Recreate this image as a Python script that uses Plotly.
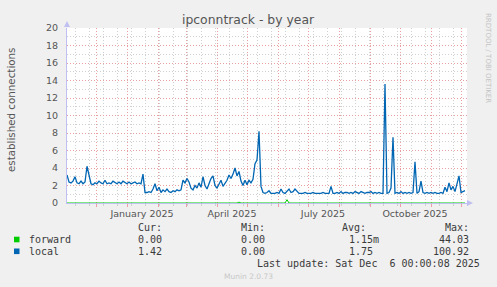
import plotly.graph_objects as go
import pandas as pd

# ---------------- data (daily averages, one value every 2 days) ----------------
start_date = "2024-11-02"
step = "2D"

local = [
    3.2, 2.4, 2.3, 2.5, 3.0, 2.3, 2.2, 2.5, 2.2, 2.4,
    4.2, 3.2, 2.2, 2.1, 2.3, 2.2, 2.5, 2.3, 2.2, 2.6,
    2.2, 2.3, 2.2, 2.5, 2.3, 2.2, 2.4, 2.2, 2.5, 2.3,
    2.2, 2.4, 2.2, 2.3, 2.4, 2.2, 2.3, 2.2, 3.3, 1.2,
    1.2, 1.3, 1.2, 1.6, 2.2, 1.4, 1.8, 1.2, 1.5, 1.3,
    1.6, 1.3, 1.2, 1.4, 1.3, 1.5, 1.4, 1.5, 2.6, 2.3,
    2.8, 2.4, 1.7, 1.5, 2.0, 1.7, 2.3, 1.8, 3.0, 2.0,
    1.6, 2.2, 2.8, 3.1, 2.0, 1.7, 2.2, 2.6, 1.9, 2.3,
    2.6, 3.2, 2.8, 3.3, 4.0, 3.1, 3.6, 2.5, 2.0, 2.6,
    2.1, 2.6, 2.3, 2.7, 4.5, 4.9, 8.2, 1.9, 1.2, 1.1,
    1.2, 1.4, 1.1, 1.1, 1.1, 1.2, 1.1, 1.6, 1.2, 1.1,
    1.3, 1.6, 1.2, 1.3, 1.6, 1.4, 1.1, 1.1, 1.1, 1.2,
    1.1, 1.1, 1.1, 1.2, 1.1, 1.1, 1.1, 1.1, 1.2, 1.1,
    1.1, 1.1, 1.9, 1.1, 1.1, 1.2, 1.1, 1.3, 1.1, 1.2,
    1.2, 1.1, 1.2, 1.1, 1.3, 1.2, 1.1, 1.3, 1.2, 1.1,
    1.2, 1.2, 1.3, 1.1, 1.2, 1.1, 1.2, 1.1, 1.1, 13.6,
    1.1, 1.2, 1.7, 7.5, 1.1, 1.2, 1.1, 1.3, 1.1, 1.2,
    1.1, 1.2, 1.1, 1.2, 4.7, 1.1, 1.3, 2.5, 1.2, 1.1,
    1.2, 1.1, 1.2, 1.1, 1.2, 1.1, 1.1, 1.2, 1.1, 1.8,
    1.3, 2.3, 1.5, 1.9, 1.3, 2.2, 3.1, 1.2, 1.3, 1.42,
]

forward = [
    0, 0, 0, 0, 0, 0, 0, 0, 0, 0, 0, 0, 0, 0, 0, 0, 0, 0, 0, 0,
    0, 0, 0, 0, 0, 0, 0, 0, 0, 0, 0, 0, 0, 0, 0, 0, 0, 0, 0, 0,
    0, 0, 0, 0, 0, 0, 0, 0, 0, 0, 0, 0, 0, 0, 0, 0, 0, 0, 0, 0,
    0, 0, 0, 0, 0, 0, 0, 0, 0, 0, 0, 0, 0, 0, 0, 0, 0, 0, 0, 0,
    0, 0, 0, 0, 0, 0, 0.1, 0, 0, 0, 0, 0, 0, 0, 0, 0, 0, 0, 0, 0,
    0, 0, 0, 0, 0, 0, 0, 0, 0, 0, 0.38, 0, 0, 0, 0, 0, 0, 0, 0, 0,
    0, 0, 0, 0, 0, 0, 0, 0, 0, 0, 0, 0, 0, 0, 0, 0, 0, 0, 0, 0,
    0, 0, 0, 0, 0, 0, 0, 0, 0, 0, 0, 0, 0, 0, 0, 0, 0, 0, 0, 0,
    0, 0, 0, 0, 0, 0, 0, 0, 0, 0, 0, 0, 0, 0, 0, 0, 0, 0, 0, 0,
    0, 0, 0, 0, 0, 0, 0, 0, 0, 0, 0, 0, 0, 0, 0, 0, 0, 0, 0, 0,
]

series_names = ["forward", "local"]
series_colors = ["#00cc00", "#0066b3"]
stat_headers = ["Cur:", "Min:", "Avg:", "Max:"]
stats_forward = ["0.00", "0.00", "1.15m", "44.03"]
stats_local = ["1.42", "0.00", "1.75", "100.92"]

month_grid = ["2024-12-01", "2025-01-01", "2025-02-01", "2025-03-01", "2025-04-01",
              "2025-05-01", "2025-06-01", "2025-07-01", "2025-08-01", "2025-09-01",
              "2025-10-01", "2025-11-01", "2025-12-01"]
label_dates = ["2025-01-16", "2025-04-16", "2025-07-16", "2025-10-16"]
label_texts = ["January 2025", "April 2025", "July 2025", "October 2025"]
x_range = ["2024-11-02", "2025-12-07"]

# ---------------- figure ----------------
W, H = 497, 287
PL, PR, PT, PB = 67, 467, 28, 203  # plot box in pixels

dates = pd.date_range(start_date, periods=len(local), freq=step)
minor_grid = pd.date_range("2024-11-10", x_range[1], freq="14D")

fig = go.Figure()
fig.add_trace(go.Scatter(x=dates, y=forward, mode="lines",
                         line=dict(color=series_colors[0], width=1),
                         name=series_names[0], hoverinfo="skip"))
fig.add_trace(go.Scatter(x=dates, y=local, mode="lines",
                         line=dict(color=series_colors[1], width=1.3),
                         name=series_names[1], hoverinfo="skip"))


def px2p(x, y):
    return (x - PL) / (PR - PL), (PB - y) / (PB - PT)


RED = "#eaa0a0"
GRAY = "#d0d0d0"
AXIS = "#bfbff2"
TXT = "#555555"
LEG = "#3a3a3a"
DOT = "1px,2px"

fig.update_layout(
    width=W, height=H,
    margin=dict(l=PL, r=W - PR, t=PT, b=H - PB, pad=0),
    paper_bgcolor="#f0f0f0", plot_bgcolor="#ffffff",
    showlegend=False,
    font=dict(family="DejaVu Sans", color=TXT, size=10),
    xaxis=dict(
        type="date", range=x_range, tickmode="array", tickvals=month_grid,
        showticklabels=False,
        showgrid=True, gridcolor=RED, griddash=DOT, gridwidth=1,
        ticks="outside", ticklen=3, tickcolor=RED,
        minor=dict(tickmode="array", tickvals=list(minor_grid), showgrid=True,
                   gridcolor=GRAY, griddash=DOT, ticks="outside",
                   ticklen=2, tickcolor=GRAY),
        showline=True, linecolor=AXIS, linewidth=1, zeroline=False,
        fixedrange=True,
    ),
    xaxis2=dict(
        type="date", range=x_range, overlaying="x", anchor="y", side="bottom",
        tickmode="array", tickvals=label_dates, ticktext=label_texts,
        showgrid=False, gridcolor="rgba(0,0,0,0)",
        showline=False, ticks="", zeroline=False,
        tickfont=dict(family="DejaVu Sans", size=9.5, color=TXT),
        ticklabelstandoff=3,
    ),
    yaxis=dict(
        range=[0, 20], dtick=2, tick0=0,
        showgrid=True, gridcolor=RED, griddash=DOT,
        minor=dict(dtick=1, showgrid=True, gridcolor=GRAY, griddash=DOT),
        showline=True, linecolor=AXIS, linewidth=1, zeroline=False,
        ticks="", tickfont=dict(family="DejaVu Sans", size=9.5, color=TXT),
        ticklabelstandoff=6,
        fixedrange=True,
    ),
)
# bind an invisible trace to xaxis2 so its labels render
fig.add_trace(go.Scatter(x=[dates[0]], y=[None], xaxis="x2", mode="lines",
                         showlegend=False, hoverinfo="skip"))

ann = []


def text(x, y, s, xanchor="left", size=10, color=LEG, family="DejaVu Sans Mono",
         angle=0):
    px, py = px2p(x, y)
    ann.append(dict(x=px, y=py, xref="paper", yref="paper", text=s,
                    showarrow=False, xanchor=xanchor, yanchor="middle",
                    font=dict(family=family, size=size, color=color),
                    textangle=angle))


# title
text(248, 19, "ipconntrack - by year", xanchor="center", size=12.4,
     color=TXT, family="DejaVu Sans")
# y axis title
text(11, 110, "established connections", xanchor="center", size=10.3,
     color=TXT, family="DejaVu Sans", angle=-90)
# right vertical credit
text(488, 58, "RRDTOOL / TOBI OETIKER", xanchor="center", size=7,
     color="#c4c4c4", family="DejaVu Sans", angle=90)

# legend header
for s, xr in zip(stat_headers, [163.5, 266.7, 368.3, 470.5]):
    text(xr, 227.5, s, xanchor="right")
rows = [(series_names[0], stats_forward, 239.5), (series_names[1], stats_local, 251.3)]
ends = [170, 273, 381, 477]
for (name, vals, yy), col in zip(rows, series_colors):
    text(26.5, yy, name)
    for v, xr in zip(vals, ends):
        if v.endswith("m"):
            text(xr, yy, v, xanchor="right")
        else:
            text(xr - 6, yy, v, xanchor="right")
text(482, 263.3, "Last update: Sat Dec  6 00:00:08 2025".replace("  ", "&nbsp; "),
     xanchor="right")
text(248, 276.5, "Munin 2.0.73", xanchor="center", size=7.5, color="#c8c8c8",
     family="DejaVu Sans")

shapes = []
# legend squares
for col, yy in zip(series_colors, [239.5, 251.3]):
    x0, y0 = px2p(14, yy - 2.8)
    x1, y1 = px2p(19.5, yy + 2.8)
    shapes.append(dict(type="rect", xref="paper", yref="paper", x0=x0, x1=x1,
                       y0=y0, y1=y1, fillcolor=col, line=dict(width=0)))


def tri(pts):
    s = ""
    for i, (x, y) in enumerate(pts):
        px, py = px2p(x, y)
        s += ("M" if i == 0 else "L") + f"{px},{py} "
    return s + "Z"


shapes.append(dict(type="path", xref="paper", yref="paper",
                   path=tri([(64, 27), (70, 27), (67, 21)]),
                   fillcolor=AXIS, line=dict(width=0)))
shapes.append(dict(type="path", xref="paper", yref="paper",
                   path=tri([(467, 200), (467, 206), (473, 203)]),
                   fillcolor=AXIS, line=dict(width=0)))

fig.update_layout(annotations=ann, shapes=shapes)
fig.write_html("out.html")
